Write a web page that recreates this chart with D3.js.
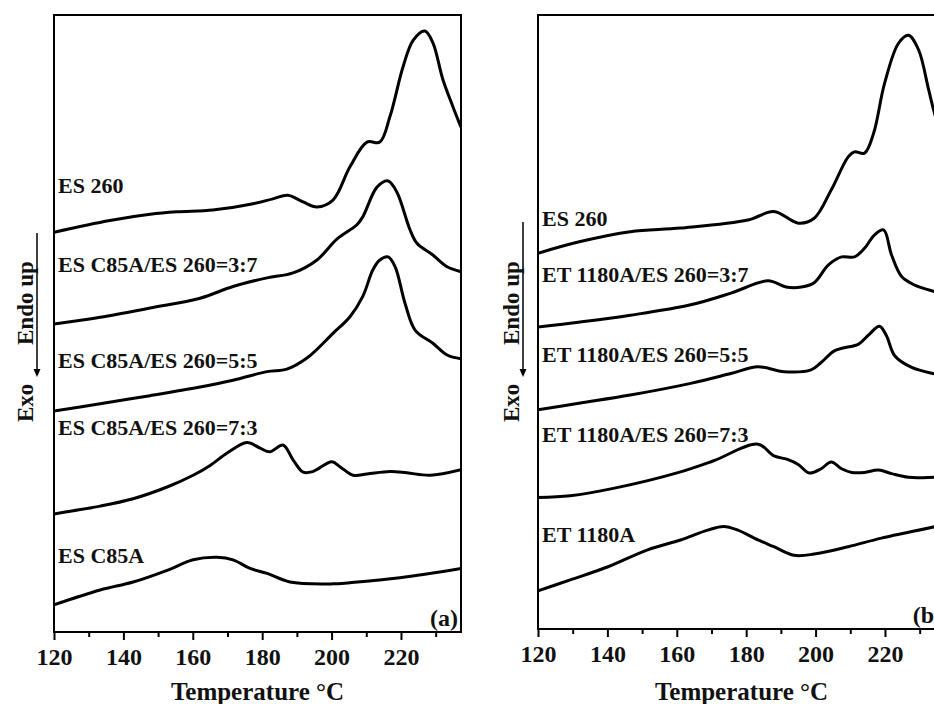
<!DOCTYPE html>
<meta charset="utf-8">
<script src="https://d3js.org/d3.v7.min.js"></script>
<style>
  body { margin: 0; background: #fff; }
  text { font-family: "Liberation Serif", "Times New Roman", serif; font-weight: bold; fill: #111; }
</style>
<div id="my_dataviz"></div>
<script>

// ---- data (temperature in °C, heat flow in arbitrary units, offset per curve) ----
var majorTicks = [120, 140, 160, 180, 200, 220];
var minorTicks = [130, 150, 170, 190, 210, 230];
var xTitle = "Temperature \u00B0C";

// panel (a)
var labelsA = ["ES 260", "ES C85A/ES 260=3:7", "ES C85A/ES 260=5:5", "ES C85A/ES 260=7:3", "ES C85A"];

var tA_es260 = [120, 136.1, 147.7, 155.4, 165.8, 177.3, 183.1, 187.4, 191.8, 195.8, 200.4, 205.3, 210.2, 213.9, 216.8, 220.6, 223.5, 226.9, 229.2, 232.1, 235, 237.3];
var vA_es260 = [64.8, 66.7, 67.7, 68.1, 68.4, 69.4, 70.2, 70.8, 69.7, 68.9, 70.0, 75.4, 79.4, 79.4, 83.5, 91.6, 95.9, 97.4, 95.5, 89.5, 85.1, 81.8];

var tA_37 = [120, 133.3, 147.7, 162.1, 171.6, 181.4, 188.9, 195.8, 201.6, 207.3, 209.0, 213.1, 216.3, 218.8, 222.6, 224.6, 229.2, 233.3, 237.3];
var vA_37 = [49.9, 51.0, 52.5, 54.1, 56.0, 57.4, 58.2, 60.3, 63.7, 66.0, 67.3, 72.1, 73.1, 71.3, 65.2, 63.0, 61.1, 59.2, 58.4];

var tA_55 = [120, 133.3, 147.7, 162.1, 171.6, 181.4, 187.1, 192.9, 200.4, 205.3, 209.0, 211.9, 213.9, 216.3, 218.3, 221.2, 224.1, 229.2, 233.3, 237.3];
var vA_55 = [35.8, 37.0, 38.3, 39.7, 40.8, 42.2, 42.6, 44.4, 48.4, 51.1, 54.4, 58.7, 60.3, 60.8, 59.2, 53.2, 48.9, 46.8, 44.9, 44.3];

var tA_73 = [120, 123.7, 133.3, 142.8, 152.6, 160.1, 165.0, 169.9, 175.6, 179.4, 182.2, 186.0, 188.9, 191.8, 194.6, 200.1, 202.4, 206.2, 210.2, 216.8, 221.7, 228.4, 237.3];
var vA_73 = [19.1, 19.5, 20.4, 21.6, 23.5, 25.4, 27.0, 29.0, 30.7, 29.8, 29.2, 30.3, 27.9, 25.9, 26.0, 27.6, 26.8, 25.4, 25.6, 26.0, 25.8, 25.4, 26.3];

var tA_c85 = [120, 133.3, 142.8, 152.6, 160.1, 167.0, 171.6, 176.5, 181.4, 188.0, 200.4, 205.3, 219.7, 237.3];
var vA_c85 = [4.4, 6.8, 8.1, 10.0, 11.7, 12.1, 11.7, 10.3, 9.5, 8.1, 7.8, 8.0, 8.8, 10.3];

// panel (b)
var labelsB = ["ES 260", "ET 1180A/ES 260=3:7", "ET 1180A/ES 260=5:5", "ET 1180A/ES 260=7:3", "ET 1180A"];

var tB_es260 = [120, 132.2, 146.6, 161.1, 180.5, 188.0, 195.0, 199.6, 204.5, 209.4, 211.2, 214.1, 216.7, 219.9, 223.9, 226.8, 229.7, 232.6, 234.6, 237.3];
var vB_es260 = [61.2, 63.1, 64.7, 65.3, 66.6, 68.0, 66.1, 66.9, 71.5, 76.9, 77.7, 77.5, 80.7, 88.9, 95.4, 96.7, 94.3, 87.8, 83.4, 79.5];

var tB_37 = [120, 132.2, 146.6, 164.0, 175.6, 186.3, 191.5, 195.9, 199.6, 203.7, 207.5, 211.2, 214.1, 217.0, 219.6, 221.9, 224.8, 228.6, 234.6, 237.3];
var vB_37 = [49.2, 50.0, 51.1, 52.8, 54.7, 56.7, 55.7, 55.7, 56.4, 59.3, 60.6, 60.6, 62.0, 64.2, 65.0, 60.9, 57.4, 56.0, 54.9, 54.5];

var tB_55 = [120, 132.2, 146.6, 164.0, 175.6, 183.4, 190.9, 198.7, 201.6, 205.4, 208.3, 212.4, 215.3, 218.4, 220.4, 222.8, 227.7, 234.6, 237.3];
var vB_55 = [35.7, 36.8, 38.1, 40.0, 41.6, 42.7, 41.9, 42.2, 43.4, 45.3, 45.8, 46.4, 47.9, 49.3, 47.8, 44.5, 42.6, 41.5, 41.2];

var tB_73 = [120, 129.3, 141.7, 161.1, 170.6, 183.4, 188.0, 192.1, 195.0, 198.2, 201.6, 204.5, 207.5, 210.4, 214.1, 218.1, 221.9, 226.8, 234.6, 237.3];
var vB_73 = [21.4, 21.7, 22.9, 25.6, 27.4, 30.1, 28.2, 27.6, 26.8, 25.4, 26.1, 27.2, 26.1, 25.5, 25.5, 25.9, 25.3, 24.7, 24.7, 24.7];

var tB_et = [120, 129.3, 140.0, 151.6, 161.1, 168.9, 173.5, 177.6, 183.4, 188.0, 193.8, 199.6, 209.4, 219.0, 234.6, 237.3];
var vB_et = [6.2, 8.0, 10.1, 12.9, 14.5, 16.1, 16.7, 16.1, 14.5, 13.4, 12.0, 12.2, 13.4, 14.8, 16.7, 17.1];

// ---- layout ----
var W = 934, H = 704;
var svg = d3.select("#my_dataviz").append("svg")
    .attr("width", W).attr("height", H);

var panels = [
  { left: 54, right: 461, top: 15, bottom: 632, tag: "(a)",
    labels: labelsA, labelY: [193, 272, 368, 435, 563], arrowX: 37, arrowTop: 233,
    series: [[tA_es260, vA_es260], [tA_37, vA_37], [tA_55, vA_55], [tA_73, vA_73], [tA_c85, vA_c85]] },
  { left: 538, right: 945, top: 15, bottom: 629, tag: "(b)",
    labels: labelsB, labelY: [226, 282, 362, 442, 542], arrowX: 523, arrowTop: 222,
    series: [[tB_es260, vB_es260], [tB_37, vB_37], [tB_55, vB_55], [tB_73, vB_73], [tB_et, vB_et]] }
];

panels.forEach(function(p) {
  var g = svg.append("g");

  var x = d3.scaleLinear().domain([120, 237.3]).range([p.left, p.right]);
  var y = d3.scaleLinear().domain([0, 100]).range([p.bottom, p.top]);

  // clip so curves stay inside the frame
  var clipId = "clip" + p.left;
  svg.append("clipPath").attr("id", clipId)
    .append("rect").attr("x", p.left).attr("y", p.top)
    .attr("width", p.right - p.left).attr("height", p.bottom - p.top);

  // curves
  var line = d3.line()
      .x(function(d) { return x(d[0]); })
      .y(function(d) { return y(d[1]); })
      .curve(d3.curveCatmullRom.alpha(0.5));

  g.append("g").attr("clip-path", "url(#" + clipId + ")")
    .selectAll("path")
    .data(p.series)
    .enter()
    .append("path")
    .attr("d", function(s) { return line(d3.zip(s[0], s[1])); })
    .attr("fill", "none")
    .attr("stroke", "#000")
    .attr("stroke-width", 3)
    .attr("stroke-linejoin", "round");

  // frame
  g.append("rect")
    .attr("x", p.left).attr("y", p.top)
    .attr("width", p.right - p.left).attr("height", p.bottom - p.top)
    .attr("fill", "none").attr("stroke", "#000").attr("stroke-width", 2);

  // x axis: major ticks with labels, minor ticks without
  var ax = g.append("g")
    .attr("transform", "translate(0," + p.bottom + ")")
    .call(d3.axisBottom(x).tickValues(majorTicks).tickSize(8).tickPadding(8).tickFormat(d3.format("d")));
  ax.select(".domain").remove();
  ax.selectAll(".tick line").attr("stroke-width", 2);
  ax.selectAll(".tick text")
    .attr("font-size", 24)
    .style("font-family", "'Liberation Serif', 'Times New Roman', serif")
    .style("font-weight", "bold")
    .attr("fill", "#111");

  var axm = g.append("g")
    .attr("transform", "translate(0," + p.bottom + ")")
    .call(d3.axisBottom(x).tickValues(minorTicks).tickSize(5).tickFormat(""));
  axm.select(".domain").remove();
  axm.selectAll(".tick line").attr("stroke-width", 2);

  // axis title
  g.append("text")
    .attr("x", (p.left + p.right) / 2)
    .attr("y", 700)
    .attr("text-anchor", "middle")
    .attr("font-size", 25)
    .text(xTitle);

  // curve labels
  g.selectAll(".lbl")
    .data(p.labels)
    .enter()
    .append("text")
    .attr("class", "lbl")
    .attr("x", p.left + 4)
    .attr("y", function(d, i) { return p.labelY[i]; })
    .attr("font-size", 22)
    .text(function(d) { return d; });

  // panel tag
  g.append("text")
    .attr("x", p.right - 3)
    .attr("y", p.bottom - 6)
    .attr("text-anchor", "end")
    .attr("font-size", 24)
    .text(p.tag);

  // Endo up / Exo arrow
  var ah = 377;
  g.append("line")
    .attr("x1", p.arrowX).attr("x2", p.arrowX)
    .attr("y1", p.arrowTop).attr("y2", ah - 6)
    .attr("stroke", "#000").attr("stroke-width", 1.5);
  g.append("path")
    .attr("d", "M" + (p.arrowX - 3.5) + "," + (ah - 8) + "L" + (p.arrowX + 3.5) + "," + (ah - 8) + "L" + p.arrowX + "," + ah + "Z")
    .attr("fill", "#000");

  g.append("text")
    .attr("transform", "translate(" + (p.arrowX - 4) + ",345) rotate(-90)")
    .attr("font-size", 23)
    .text("Endo up");
  g.append("text")
    .attr("transform", "translate(" + (p.arrowX - 4) + ",422) rotate(-90)")
    .attr("font-size", 23)
    .text("Exo");
});
</script>
